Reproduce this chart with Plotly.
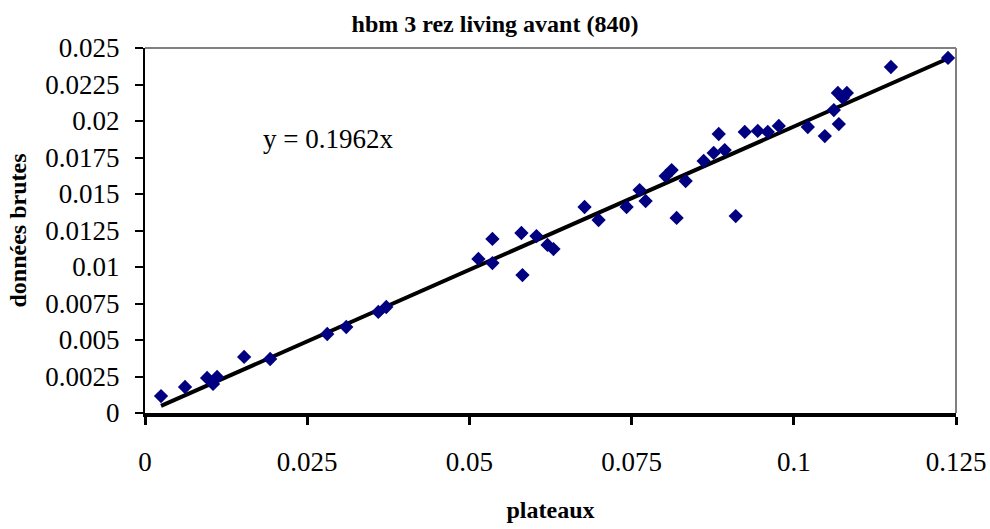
import plotly.graph_objects as go

# data
plateaux = [0.00247, 0.00617, 0.00957, 0.01049, 0.01111, 0.01528, 0.01929, 0.02809,
            0.03102, 0.03596, 0.03719, 0.05139, 0.05355, 0.05355, 0.05802, 0.05818,
            0.06034, 0.06204, 0.06296, 0.06775, 0.06991, 0.07423, 0.07623, 0.07716,
            0.08025, 0.08117, 0.08194, 0.08333, 0.08611, 0.08765, 0.08843, 0.08935,
            0.09105, 0.09244, 0.09444, 0.09599, 0.09769, 0.10216, 0.10478, 0.10617,
            0.10694, 0.10679, 0.10818, 0.10756, 0.11497, 0.12377]
donnees_brutes = [0.00116, 0.00178, 0.00240, 0.00199, 0.00247, 0.00384, 0.00370, 0.00541,
                  0.00589, 0.00692, 0.00726, 0.01055, 0.01027, 0.01192, 0.01233, 0.00945,
                  0.01212, 0.01151, 0.01123, 0.01411, 0.01322, 0.01411, 0.01527, 0.01452,
                  0.01623, 0.01664, 0.01336, 0.01589, 0.01726, 0.01781, 0.01911, 0.01801,
                  0.01349, 0.01925, 0.01932, 0.01925, 0.01966, 0.01959, 0.01897, 0.02075,
                  0.01979, 0.02192, 0.02192, 0.02158, 0.02370, 0.02432]
slope = 0.1962

x_tickvals = [0, 0.025, 0.05, 0.075, 0.1, 0.125]
x_ticktext = ["0", "0.025", "0.05", "0.075", "0.1", "0.125"]
y_tickvals = [0, 0.0025, 0.005, 0.0075, 0.01, 0.0125, 0.015, 0.0175, 0.02, 0.0225, 0.025]
y_ticktext = ["0", "0.0025", "0.005", "0.0075", "0.01", "0.0125", "0.015", "0.0175",
              "0.02", "0.0225", "0.025"]

FONT = "Liberation Serif, Times New Roman, serif"

x_line = [min(plateaux), max(plateaux)]
y_line = [slope * v for v in x_line]

fig = go.Figure()
fig.add_trace(go.Scatter(x=x_line, y=y_line, mode="lines",
                         line=dict(color="black", width=4), hoverinfo="skip",
                         showlegend=False))
fig.add_trace(go.Scatter(x=plateaux, y=donnees_brutes, mode="markers",
                         marker=dict(symbol="diamond", size=11, color="#000080",
                                     line=dict(width=0)),
                         showlegend=False))

fig.add_annotation(x=0.02824, y=0.01877, xref="x", yref="y",
                   text=f"y = {slope}x", showarrow=False,
                   font=dict(family=FONT, size=27, color="black"))

# grey top and right border of plot area
fig.add_shape(type="line", xref="paper", yref="paper", x0=0, x1=1, y0=1, y1=1,
              line=dict(color="#808080", width=2), layer="below")
fig.add_shape(type="line", xref="paper", yref="paper", x0=1, x1=1, y0=0, y1=1,
              line=dict(color="#808080", width=2), layer="below")

fig.update_layout(
    width=990, height=529,
    margin=dict(l=145, r=34, t=48, b=116, autoexpand=False),
    paper_bgcolor="white", plot_bgcolor="white",
    font=dict(family=FONT, color="black"),
    title=dict(text="<b>hbm 3 rez living avant (840)</b>", x=0.5, xref="container",
               xanchor="center", y=1 - 24 / 529, yref="container", yanchor="middle",
               font=dict(family=FONT, size=24, color="black")),
)

fig.update_xaxes(range=[0, 0.125], tickvals=x_tickvals, ticktext=x_ticktext,
                 automargin=False,
                 showgrid=False, zeroline=False, showline=True, linecolor="black",
                 linewidth=4, ticks="outside", ticklen=8, tickwidth=3, tickcolor="black",
                 tickfont=dict(family=FONT, size=27, color="black"),
                 ticklabelstandoff=14,
                 title=dict(text="<b>plateaux</b>", standoff=26,
                            font=dict(family=FONT, size=24, color="black")))
fig.update_yaxes(range=[0, 0.025], tickvals=y_tickvals, ticktext=y_ticktext,
                 automargin=False,
                 showgrid=False, zeroline=False, showline=True, linecolor="black",
                 linewidth=2, ticks="outside", ticklen=8, tickwidth=1.5, tickcolor="black",
                 tickfont=dict(family=FONT, size=27, color="black"),
                 ticklabelstandoff=10,
                 title=dict(text="<b>données brutes</b>", standoff=12,
                            font=dict(family=FONT, size=24, color="black")))

fig.write_html("out.html")
